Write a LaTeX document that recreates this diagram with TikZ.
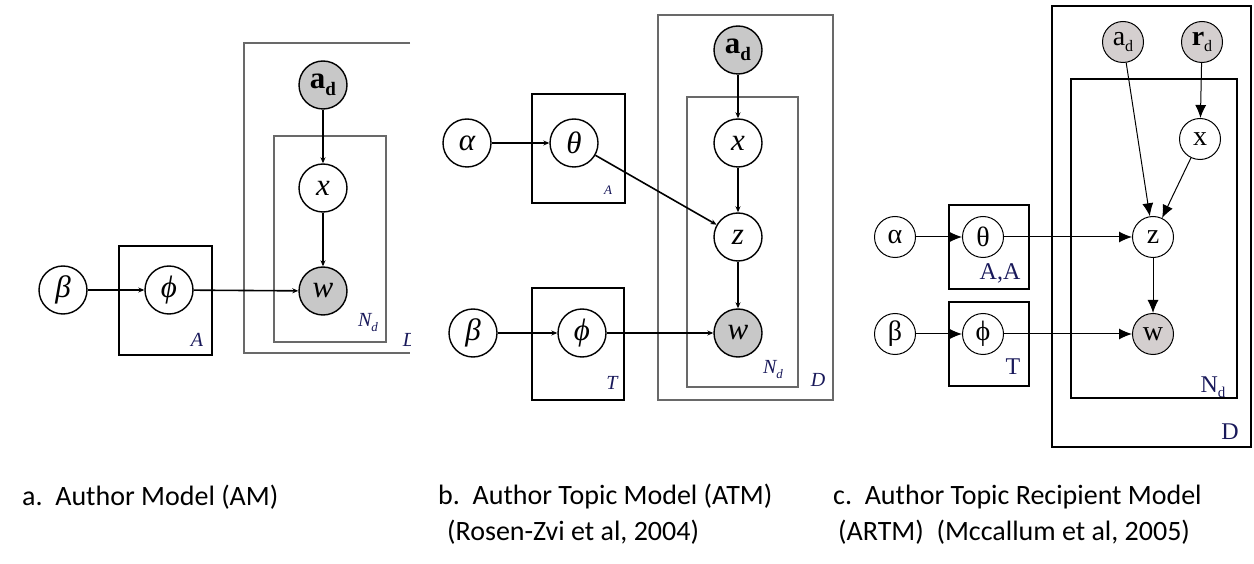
\documentclass[tikz,border=0pt]{standalone}
\usepackage{fontspec}
\setmainfont{Liberation Serif}
\newfontfamily\capfont{Carlito}
\usetikzlibrary{arrows.meta}
\definecolor{obsgray}{RGB}{200,200,200}
\definecolor{obsgrayc}{RGB}{212,207,207}
\definecolor{platelab}{RGB}{25,25,90}
\definecolor{plategray}{RGB}{105,105,105}
\tikzset{
  var/.style={circle, draw, line width=1.4pt, minimum size=48pt, inner sep=0pt, font=\fontsize{31}{31}\selectfont\itshape},
  obs/.style={var, fill=obsgray},
  varc/.style={circle, draw, line width=1pt, minimum size=41pt, inner sep=0pt, font=\fontsize{28}{28}\selectfont},
  obsc/.style={varc, fill=obsgrayc},
  arr/.style={-{Stealth[length=6pt,width=5pt]}, line width=1.6pt},
  arrc/.style={-{Latex[length=13pt,width=11pt]}, line width=1pt},
  plate/.style={draw, line width=1.4pt},
  outerplate/.style={draw=plategray, line width=2.4pt},
  platec/.style={draw, line width=1.1pt},
  lab/.style={text=platelab, font=\fontsize{20}{20}\selectfont\itshape},
  labc/.style={text=platelab, font=\fontsize{24}{24}\selectfont},
  caption/.style={anchor=west, inner sep=0pt, font=\capfont\fontsize{28}{30}\selectfont},
}
\newcommand{\obsad}{\upshape\bfseries a\raisebox{-7pt}{\fontsize{19}{19}\selectfont d}}
\begin{document}
\begin{tikzpicture}[x=1pt, y=-1pt]
    \useasboundingbox (0,0) rectangle (1254,564);

    % (a) Author Model
    \draw[plate] (119,246) rectangle (212,355);
    \draw[outerplate] (410,43) -- (244,43) -- (244,353) -- (410,353);
    \draw[outerplate] (274,136) rectangle (386,342);
    \node[var] (betaA) at (63,290) {β};
    \node[var] (phiA) at (169,290) {ϕ};
    \node[obs] (adA) at (323,85) {\obsad};
    \node[var] (xA) at (323,188) {x};
    \node[obs] (wA) at (323,291) {w};
    \node[lab] (labAA) at (197,340) {A};
    \node[lab] (labNA) at (368,323) {N\raisebox{-5pt}{\fontsize{13}{13}\selectfont d}};
    \begin{scope}
        \clip (0,0) rectangle (410,564);
        \node[lab] (labDA) at (410,340) {D};
    \end{scope}
    \draw[arr] (betaA) -- (phiA);
    \draw[arr] (phiA) -- (wA);
    \draw[arr] (adA) -- (xA);
    \draw[arr] (xA) -- (wA);

    % (b) Author Topic Model
    \draw[plate] (532,94) rectangle (625,203);
    \draw[plate] (532,288) rectangle (624,400);
    \draw[outerplate] (658,15) rectangle (833,400);
    \draw[outerplate] (687,97) rectangle (798,387);
    \node[var] (alphaB) at (467,143) {α};
    \node[var] (thetaB) at (574,143) {θ};
    \node[var] (betaB) at (473,333) {β};
    \node[var] (phiB) at (582,333) {ϕ};
    \node[obs] (adB) at (738,50) {\obsad};
    \node[var] (xB) at (738,143) {x};
    \node[var] (zB) at (738,237) {z};
    \node[obs] (wB) at (738,333) {w};
    \node[lab, font=\fontsize{13}{13}\selectfont\itshape] (labAB) at (608,190) {A};
    \node[lab] (labTB) at (612,383) {T};
    \node[lab] (labNB) at (773,370) {N\raisebox{-5pt}{\fontsize{13}{13}\selectfont d}};
    \node[lab] (labDB) at (818,380) {D};
    \draw[arr] (alphaB) -- (thetaB);
    \draw[arr] (thetaB) -- (zB);
    \draw[arr] (adB) -- (xB);
    \draw[arr] (xB) -- (zB);
    \draw[arr] (zB) -- (wB);
    \draw[arr] (betaB) -- (phiB);
    \draw[arr] (phiB) -- (wB);

    % (c) Author Topic Recipient Model
    \draw[platec] (1052,6) rectangle (1251,447);
    \draw[platec] (1071,79) rectangle (1237,398);
    \draw[platec] (949,205) rectangle (1029,289);
    \draw[platec] (949,302) rectangle (1029,386);
    \node[obsc] (adC) at (1123,42) {a\raisebox{-6pt}{\fontsize{16}{16}\selectfont d}};
    \node[obsc] (rdC) at (1202,42) {\textbf{r}\raisebox{-6pt}{\fontsize{16}{16}\selectfont d}};
    \node[varc] (xC) at (1200,139) {x};
    \node[varc] (zC) at (1153,237) {z};
    \node[obsc] (wC) at (1153,334) {w};
    \node[varc] (alphaC) at (895,237) {α};
    \node[varc] (thetaC) at (983,237) {θ};
    \node[varc] (betaC) at (895,334) {β};
    \node[varc] (phiC) at (983,334) {ϕ};
    \node[labc] (labAC) at (1000,273) {A,A};
    \node[labc] (labTC) at (1013,367) {T};
    \node[labc] (labNC) at (1213,387) {N\raisebox{-5pt}{\fontsize{15}{15}\selectfont d}};
    \node[labc] (labDC) at (1230,432) {D};
    \draw[arrc] (adC) -- (zC);
    \draw[arrc] (rdC) -- (xC);
    \draw[arrc] (xC) -- (zC);
    \draw[arrc] (alphaC) -- (thetaC);
    \draw[arrc] (thetaC) -- (zC);
    \draw[arrc] (zC) -- (wC);
    \draw[arrc] (betaC) -- (phiC);
    \draw[arrc] (phiC) -- (wC);

    % captions
    \node[caption] (capA) at (22,497) {a.\ \ Author Model (AM)};
    \node[caption] (capB) at (438,497) {b.\ \ Author Topic Model (ATM)};
    \node[caption] (capB2) at (447,532) {(Rosen-Zvi et al, 2004)};
    \node[caption] (capC) at (833,497) {c.\ \ Author Topic Recipient Model};
    \node[caption] (capC2) at (838,532) {(ARTM)\ \ (Mccallum et al, 2005)};
\end{tikzpicture}
\end{document}
